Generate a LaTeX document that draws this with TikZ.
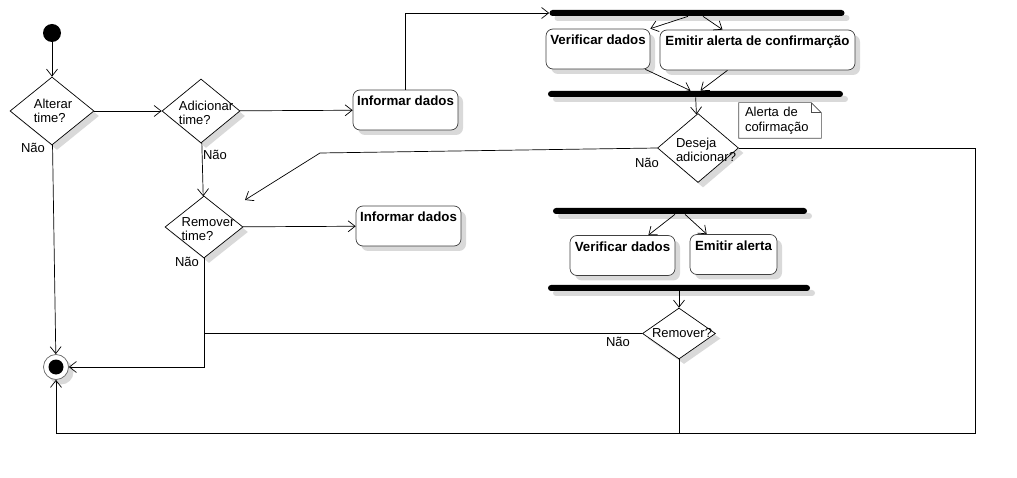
\documentclass[tikz,border=0pt]{standalone}
\usepackage{fontspec}
\setmainfont{Liberation Sans}
\usetikzlibrary{arrows.meta, positioning, shapes.geometric, shadows}

\begin{document}
\begin{tikzpicture}[->,>={Straight Barb[length=7pt,width=11pt]}, x=1pt, y=-1pt, line width=0.7pt, font=\fontsize{13}{14.5}\selectfont,
  sombra/.style={drop shadow={fill=black!15, opacity=1, shadow xshift=5pt, shadow yshift=-5pt}},
  inicio/.style={circle, fill=black, minimum size=18pt, inner sep=0pt},
  fim/.style={circle, draw=black!60, fill=white, minimum size=25pt, inner sep=0pt, sombra, path picture={\fill[black] (path picture bounding box.center) circle (7.5pt);}},
  decisao/.style={diamond, draw, fill=white, inner sep=0pt, sombra},
  acao/.style={rectangle, rounded corners=7pt, draw=black!75, fill=white, font=\fontsize{13.3}{15}\selectfont\bfseries, text height=12pt, text depth=20pt, inner ysep=4pt, inner xsep=1pt, sombra},
  barra/.style={rectangle, fill=black, rounded corners=3pt, inner sep=0pt, minimum height=6pt, sombra},
  nota/.style={align=left, text width=70pt, inner xsep=6pt, minimum height=35pt},
  rotulo/.style={inner sep=0pt}]

        \useasboundingbox (0,0) rectangle (1017,478);

        \node[inicio] (0) at (52,33) {};
        \node[decisao, minimum width=84pt, minimum height=68pt, label={[align=left,xshift=1pt]center:{Alterar\\time?}}] (1) at (52,111) {};
        \node[decisao, minimum width=78pt, minimum height=64pt, label={[align=left,xshift=5pt,yshift=-2pt]center:{Adicionar\\time?}}] (2) at (201,111) {};
        \node[acao, minimum width=105pt] (3) at (405.5,110) {Informar dados};
        \node[barra, minimum width=295pt] (4) at (697,13) {};
        \node[acao, minimum width=104pt] (5) at (598,49) {Verificar dados};
        \node[acao, minimum width=195pt] (6) at (757.5,50) {Emitir alerta de confirmarção};
        \node[barra, minimum width=295pt] (7) at (695.5,94) {};
        \node[decisao, minimum width=81pt, minimum height=69pt, label={[align=left,xshift=8pt,yshift=-2pt]center:{Deseja\\adicionar?}}] (8) at (698,148) {};
        \node[nota] (9) at (780,120.5) {Alerta de\\cofirmação};
        \node[decisao, minimum width=78pt, minimum height=62pt, label={[align=left,xshift=4pt,yshift=-2pt]center:{Remover\\time?}}] (10) at (204,227) {};
        \node[acao, minimum width=105pt] (11) at (408.5,226) {Informar dados};
        \node[barra, minimum width=254pt] (12) at (680,211) {};
        \node[acao, minimum width=105pt] (13) at (622.5,255.5) {Verificar dados};
        \node[acao, minimum width=87pt] (14) at (733.5,254.5) {Emitir alerta};
        \node[barra, minimum width=262pt] (15) at (679,288) {};
        \node[decisao, minimum width=73pt, minimum height=51pt, label={[xshift=3pt]center:Remover?}] (16) at (679,333.5) {};
        \node[fim] (17) at (56,367) {};

        \node[rotulo] (n1) at (33,148) {Não};
        \node[rotulo] (n2) at (215,155) {Não};
        \node[rotulo] (n3) at (187,262) {Não};
        \node[rotulo] (n4) at (647,163) {Não};
        \node[rotulo] (n5) at (618,342) {Não};

        \coordinate (dk) at (320,153);
        \coordinate (dp) at (245,200);
        \coordinate (rb) at (975,433);

        % nota
        \draw[-, draw=black!70] (9.south west) -- (9.north west) -- ([xshift=-10pt]9.north east) -- ([yshift=-10pt]9.north east) -- (9.south east) -- cycle;
        \draw[-, draw=black!70] ([xshift=-10pt]9.north east) |- ([yshift=-10pt]9.north east);

          \path
            (0) edge (1)
            (1) edge (2)
                edge (17)
            (2) edge (3)
                edge (10)
            (10) edge (11)
            ([xshift=-9pt]4.south) edge (5.north east)
            ([xshift=6pt]4.south) edge ([xshift=-35pt]6.north)
            ([xshift=-5pt]5.south east) edge ([xshift=-5pt]7.north)
            ([xshift=-30pt]6.south) edge ([xshift=5pt]7.north)
            (7) edge (8)
            ([xshift=-5pt]12.south) edge ([xshift=-27pt]13.north east)
            ([xshift=5pt]12.south) edge ([xshift=17pt]14.north west)
            (15) edge (16);

        \draw (3.north) |- (4.west);
        \draw (8.east) -| (rb) -| (17.south);
        \draw[-] (16.south) -- (16.south |- rb);
        \draw[-] (16.west) -- (16.west -| 10.south);
        \draw (10.south) |- (17.east);
        \draw (8.west) -- (dk) -- (dp);
        \end{tikzpicture}
\end{document}
